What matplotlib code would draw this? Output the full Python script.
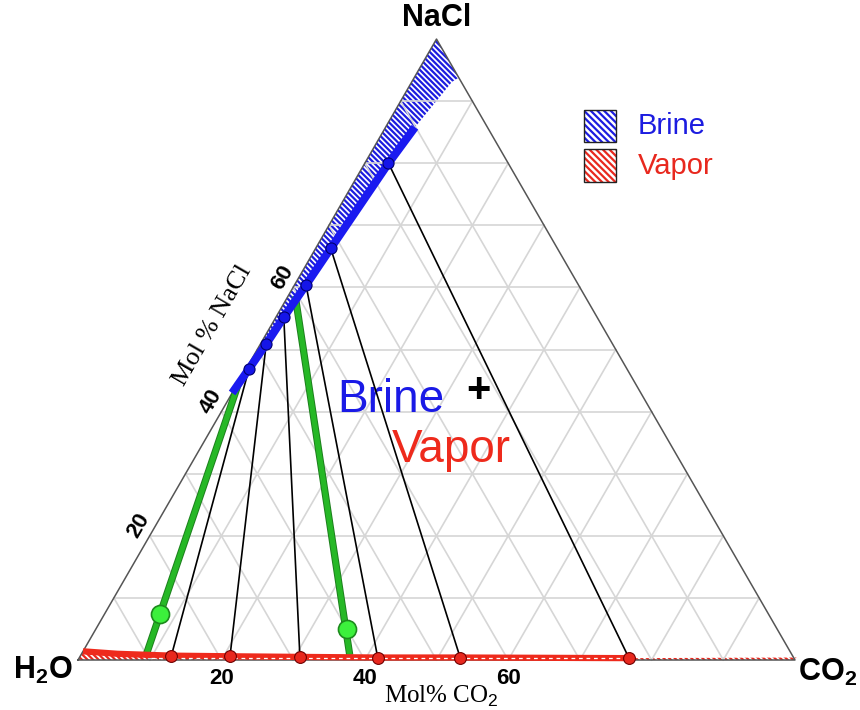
import matplotlib
matplotlib.use("Agg")
import matplotlib.pyplot as plt
import matplotlib.patheffects as pe
from matplotlib.patches import Polygon, Rectangle
import numpy as np

plt.rcParams['font.family'] = ['Liberation Sans', 'DejaVu Sans']
plt.rcParams['mathtext.fontset'] = 'custom'
plt.rcParams['mathtext.rm'] = 'Liberation Sans'
plt.rcParams['mathtext.it'] = 'Liberation Sans:italic'
plt.rcParams['mathtext.bf'] = 'Liberation Sans:bold'
plt.rcParams['hatch.linewidth'] = 1.6

# composições (frações molares): CO2 e NaCl, o resto é H2O
brine_co2 = [0.004, 0.008, 0.011, 0.016, 0.021, 0.033]
brine_nacl = [0.469, 0.509, 0.552, 0.604, 0.663, 0.800]
vapor_co2 = [0.127, 0.209, 0.307, 0.416, 0.531, 0.767]
vapor_nacl = [0.006, 0.006, 0.005, 0.004, 0.004, 0.003]

# curva da salmoura (ramo líquido)
brine_curve_co2 = [0.0, 0.004, 0.008, 0.011, 0.016, 0.021, 0.033, 0.041]
brine_curve_nacl = [0.43, 0.469, 0.509, 0.552, 0.604, 0.663, 0.800, 0.858]
# limite superior da região da salmoura
brine_top_co2 = [0.056, 0.062, 0.0]
brine_top_nacl = [0.931, 0.938, 1.0]

# curva do vapor
vapor_curve_co2 = [0.0, 0.05, 0.127, 0.209, 0.307, 0.416, 0.531, 0.767]
vapor_curve_nacl = [0.014, 0.010, 0.007, 0.006, 0.005, 0.004, 0.004, 0.003]

# linhas verdes (experimentais)
green_co2 = [[0.001, 0.091], [0.010, 0.375]]
green_nacl = [[0.446, 0.008], [0.586, 0.008]]
green_pt_co2 = [0.077, 0.350]
green_pt_nacl = [0.074, 0.050]

ticks = [20, 40, 60]

S3 = np.sqrt(3) / 2


def tern(co2, nacl):
    co2 = np.asarray(co2, dtype=float)
    nacl = np.asarray(nacl, dtype=float)
    return co2 + nacl / 2, nacl * S3


fig = plt.figure(figsize=(8.6, 7.1), dpi=100)
ax = fig.add_axes([0, 0, 1, 1])
ax.set_xlim(-78 / 717, 782 / 717)
ax.set_ylim(-50 / 717, 660 / 717)
ax.axis('off')

HATCH = '\\\\\\\\\\\\'

# região hachurada da salmoura
poly_co2 = [0.0, 0.0] + brine_top_co2[::-1][1:] + brine_curve_co2[::-1]
poly_nacl = [0.43, 1.0] + brine_top_nacl[::-1][1:] + brine_curve_nacl[::-1]
bx, by = tern(poly_co2, poly_nacl)
ax.add_patch(Polygon(np.column_stack([bx, by]), closed=True, facecolor='white',
                     edgecolor='#1c1ce0', lw=0, hatch=HATCH, zorder=1))

# região hachurada do vapor
vp_co2 = [0.0, 1.0, 1.0] + vapor_curve_co2[::-1]
vp_nacl = [0.0, 0.0, 0.004] + vapor_curve_nacl[::-1]
vx, vy = tern(vp_co2, vp_nacl)
ax.add_patch(Polygon(np.column_stack([vx, vy]), closed=True, facecolor='white',
                     edgecolor='#e8281e', lw=0, hatch=HATCH, zorder=1))

# grade
for i in range(1, 10):
    f = i / 10
    x, y = tern([0, 1 - f], [f, f])
    ax.plot(x, y, color='#d6d6d6', lw=1.2, zorder=2)
    x, y = tern([f, f], [0, 1 - f])
    ax.plot(x, y, color='#d6d6d6', lw=1.2, zorder=2)
    x, y = tern([0, 1 - f], [1 - f, 0])
    ax.plot(x, y, color='#d6d6d6', lw=1.2, zorder=2)

# triângulo
x, y = tern([0, 1, 0, 0], [0, 0, 1, 0])
ax.plot(x, y, color='#555555', lw=1.1, zorder=3)

# tie lines
for bc, bn, vc, vn in zip(brine_co2, brine_nacl, vapor_co2, vapor_nacl):
    x, y = tern([bc, vc], [bn, vn])
    ax.plot(x, y, color='black', lw=1.2, zorder=4)

# linhas verdes
for gc, gn in zip(green_co2, green_nacl):
    x, y = tern(gc, gn)
    ax.plot(x, y, color='#26b826', lw=3.8, solid_capstyle='butt', zorder=5,
            path_effects=[pe.Stroke(linewidth=5.2, foreground='#1d7f1d'), pe.Normal()])
x, y = tern(green_pt_co2, green_pt_nacl)
ax.plot(x, y, 'o', ms=13, mfc='#3cf03c', mec='#1d8a1d', mew=1.2, zorder=6)

# curvas de salmoura e vapor
x, y = tern(brine_curve_co2, brine_curve_nacl)
ax.plot(x, y, color='#1a1af0', lw=5.8, solid_capstyle='butt', zorder=6)
x, y = tern(vapor_curve_co2, vapor_curve_nacl)
ax.plot(x, y, color='#ee2a1c', lw=4.5, solid_capstyle='butt', zorder=6)
x, y = tern([0.1, 0.767], [0.0025, 0.0025])
ax.plot(x, y, color='white', lw=0.9, ls=(0, (3, 3)), zorder=6.5)

x, y = tern(brine_co2, brine_nacl)
ax.plot(x, y, 'o', ms=8, mfc='#1515e8', mec='#000070', mew=0.8, zorder=7)
x, y = tern(vapor_co2, vapor_nacl)
ax.plot(x, y, 'o', ms=8.5, mfc='#e8281e', mec='#700000', mew=0.8, zorder=7)

# rótulos dos vértices
ax.text(0.5, 0.895, 'NaCl', ha='center', va='center', fontsize=22, fontweight='bold')
ax.text(-0.008, -0.014, r'H$_\mathbf{2}$O', ha='right', va='center', fontsize=22,
        fontweight='bold')
ax.text(1.004, -0.017, r'CO$_\mathbf{2}$', ha='left', va='center', fontsize=22,
        fontweight='bold')

# marcas dos eixos
for t in ticks:
    ax.text(t / 100, -0.026, str(t), ha='center', va='center', fontsize=16,
            fontweight='bold')
    ex, ey = tern(0, t / 100)
    ax.text(ex - 0.015, ey + 0.014, str(t), ha='center', va='center',
            fontsize=16, fontweight='bold', rotation=60)

ax.text(0.506, -0.060, 'Mol% CO$_2$', ha='center', va='baseline', fontsize=18,
        family='Liberation Serif')
ax.text(0.187, 0.467, 'Mol % NaCl', ha='center', va='center', fontsize=19,
        family='Liberation Serif', rotation=60)

# textos centrais
ax.text(0.361, 0.346, 'Brine', color='#1a1ae6', fontsize=33, ha='left', va='baseline')
ax.text(0.558, 0.375, '+', color='black', fontsize=30, fontweight='bold',
        ha='center', va='center')
ax.text(0.438, 0.276, 'Vapor', color='#ee2a1c', fontsize=33, ha='left', va='baseline')

# legenda
leg = [('Brine', '#1c1ce0', 0.722), ('Vapor', '#e8281e', 0.667)]
for name, col, y0 in leg:
    ax.add_patch(Rectangle((0.706, y0), 0.044, 0.045, facecolor='white',
                           edgecolor=col, lw=0, hatch='\\\\\\\\\\'))
    ax.add_patch(Rectangle((0.706, y0), 0.044, 0.045, fill=False,
                           edgecolor='#222222', lw=1))
    ax.text(0.781, y0 + 0.0225, name, color=col, fontsize=21, ha='left', va='center')

fig.savefig('out.png', dpi=100)
